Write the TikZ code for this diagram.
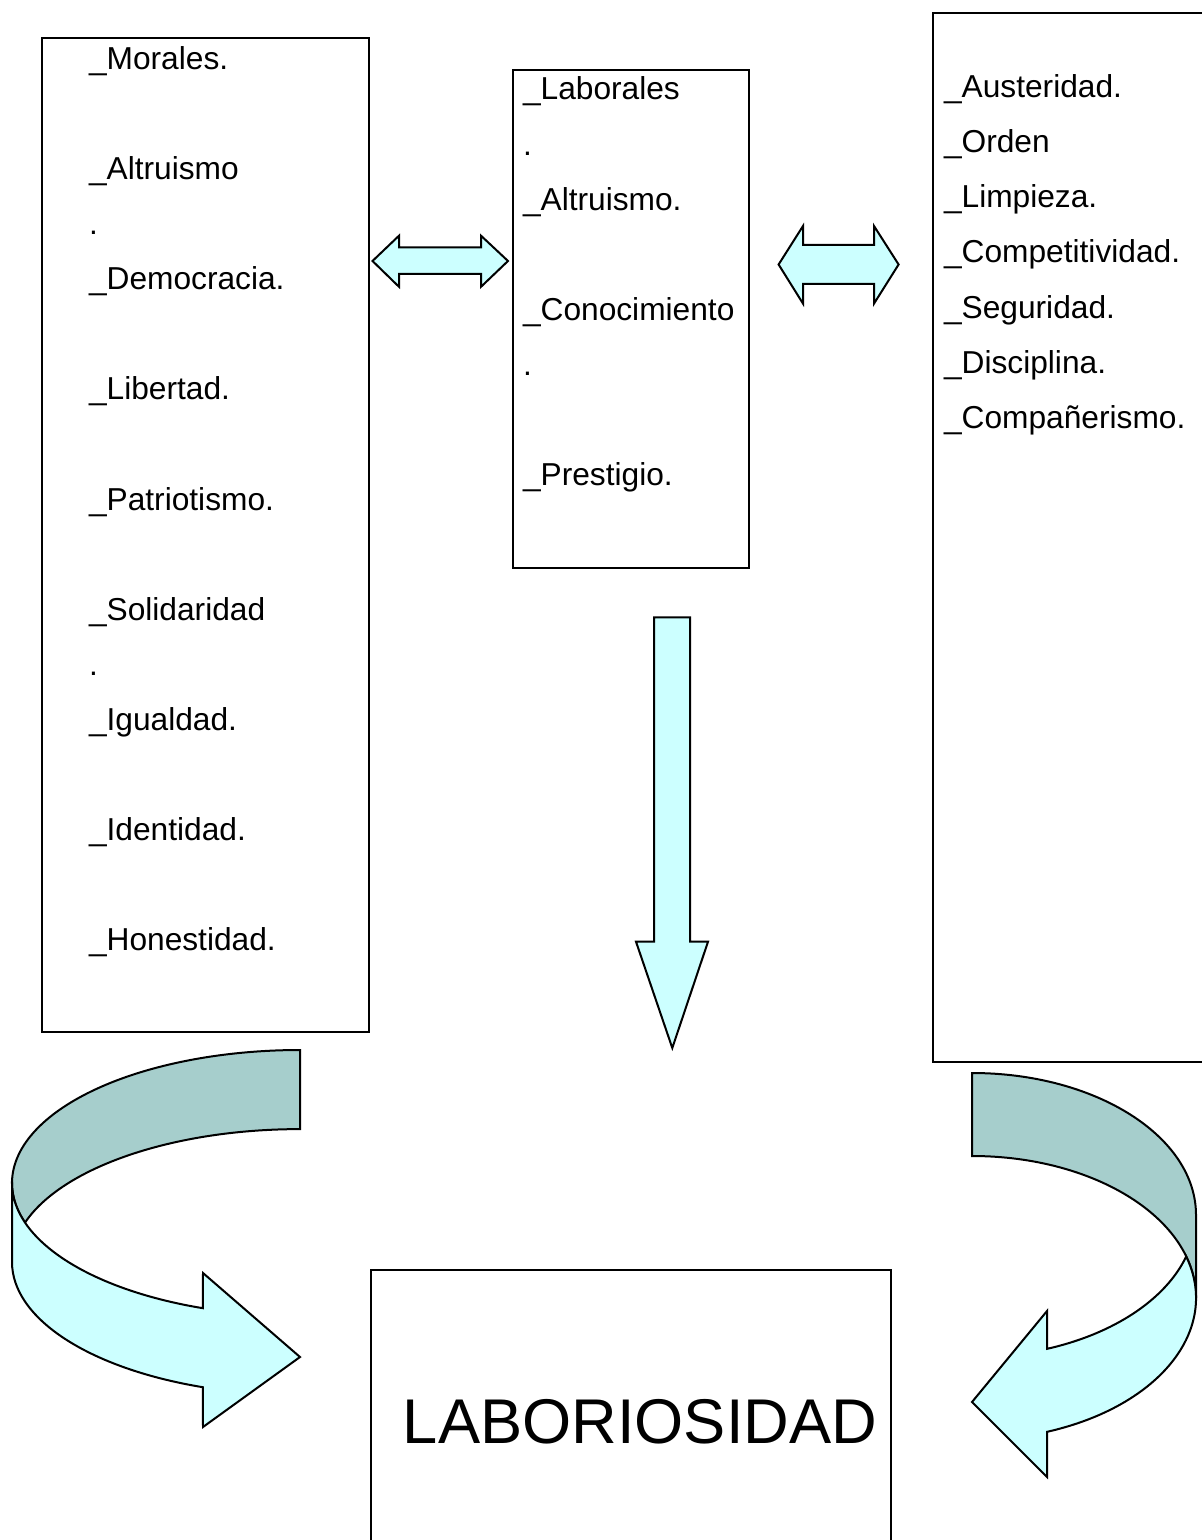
\documentclass[tikz,border=0pt]{standalone}
\usepackage{fontspec}
\setmainfont{Liberation Sans}
\definecolor{lightcyan}{RGB}{204,255,255}
\definecolor{darkteal}{RGB}{166,206,204}
\begin{document}
\begin{tikzpicture}[x=0.5pt,y=-0.5pt,line width=1pt,line join=miter,
  lbl/.style={anchor=base west,inner sep=0pt,font=\fontsize{15.85pt}{18pt}\selectfont},
  bigtxt/.style={anchor=base,inner sep=0pt,font=\fontsize{31.6pt}{36pt}\selectfont},
  boxframe/.style={draw=black},
  frontface/.style={draw=black,fill=lightcyan},
  backface/.style={draw=black,fill=darkteal}]
\useasboundingbox (0,0) rectangle (1202,1540);
\clip (0,0) rectangle (1202,1540);

% boxes
\draw[boxframe] (42,38) rectangle (369,1032);
\draw[boxframe] (513,70) rectangle (749,568);
\draw[boxframe] (933,12.7) rectangle (1220,1062);
\draw[boxframe] (371,1270) rectangle (891,1560);

% left column
\node[lbl] (l1) at (88,69.3) {\_Morales.};
\node[lbl] (l2) at (88,179.5) {\_Altruismo};
\node[lbl] (l3) at (88,234.6) {.};
\node[lbl] (l4) at (88,289.7) {\_Democracia.};
\node[lbl] (l5) at (88,399.9) {\_Libertad.};
\node[lbl] (l6) at (88,510.1) {\_Patriotismo.};
\node[lbl] (l7) at (88,620.3) {\_Solidaridad};
\node[lbl] (l8) at (88,675.4) {.};
\node[lbl] (l9) at (88,730.5) {\_Igualdad.};
\node[lbl] (l10) at (88,840.7) {\_Identidad.};
\node[lbl] (l11) at (88,950.9) {\_Honestidad.};

% middle column
\node[lbl] (m1) at (522,100) {\_Laborales};
\node[lbl] (m2) at (522,155.1) {.};
\node[lbl] (m3) at (522,210.2) {\_Altruismo.};
\node[lbl] (m4) at (522,320.4) {\_Conocimiento};
\node[lbl] (m5) at (522,375.5) {.};
\node[lbl] (m6) at (522,485.7) {\_Prestigio.};

% right column
\node[lbl] (r1) at (943,97.7) {\_Austeridad.};
\node[lbl] (r2) at (943,152.8) {\_Orden};
\node[lbl] (r3) at (943,207.9) {\_Limpieza.};
\node[lbl] (r4) at (943,263) {\_Competitividad.};
\node[lbl] (r5) at (943,318.1) {\_Seguridad.};
\node[lbl] (r6) at (943,373.2) {\_Disciplina.};
\node[lbl] (r7) at (943,428.3) {\_Compañerismo.};

% result
\node[bigtxt] (lab) at (640,1443) {LABORIOSIDAD};

% double arrow left
\draw[frontface] (372.5,261) -- (399,235.7) -- (399,247.5) -- (481,247.5) -- (481,235.7)
  -- (508,261) -- (481,286.8) -- (481,274) -- (399,274) -- (399,286.8) -- cycle;
% double arrow right
\draw[frontface] (778.6,264.5) -- (803,226) -- (803,245) -- (874,245) -- (874,226)
  -- (898.6,264.5) -- (874,303.6) -- (874,284) -- (803,284) -- (803,303.6) -- cycle;
% down arrow
\draw[frontface] (654,617.3) -- (690,617.3) -- (690,941.7) -- (708,941.7) -- (672.3,1048)
  -- (636,941.7) -- (654,941.7) -- cycle;

% left curved arrow
\draw[backface] (300,1050) arc[start angle=270,end angle=162.7,x radius=288,y radius=133]
  arc[start angle=197.3,end angle=270,x radius=288,y radius=133] -- cycle;
\draw[frontface] (12,1183) -- (12,1262)
  arc[start angle=180,end angle=109.7,x radius=288,y radius=133]
  -- (203,1427) -- (300,1357) -- (203,1273) -- (202.9,1308.2)
  arc[start angle=109.7,end angle=180,x radius=288,y radius=133] -- cycle;

% right curved arrow
\draw[backface] (972,1073) arc[start angle=270,end angle=360,x radius=224,y radius=142]
  -- (1196,1298) arc[start angle=360,end angle=270,x radius=224,y radius=142] -- cycle;
\draw[frontface] (1186.2,1256.5)
  arc[start angle=343,end angle=430.4,x radius=224,y radius=142]
  -- (1047,1477) -- (972,1402) -- (1047,1311) -- (1047.1,1348.8)
  arc[start angle=70.4,end angle=17,x radius=224,y radius=142] -- cycle;
\end{tikzpicture}
\end{document}
